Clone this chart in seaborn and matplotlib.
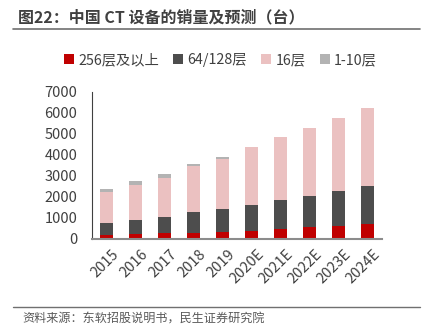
import numpy as np
import pandas as pd
import matplotlib
matplotlib.use("Agg")
import matplotlib.pyplot as plt
import matplotlib.transforms as mtransforms
from matplotlib.patches import Patch
from matplotlib.lines import Line2D
import seaborn as sns

years = ["2015", "2016", "2017", "2018", "2019", "2020E", "2021E", "2022E", "2023E", "2024E"]
slice_256 = [170, 220, 270, 300, 350, 400, 475, 555, 635, 715]
slice_64_128 = [575, 665, 760, 985, 1075, 1235, 1365, 1505, 1650, 1790]
slice_16 = [1475, 1695, 1870, 2185, 2395, 2740, 3010, 3235, 3470, 3710]
slice_1_10 = [170, 160, 175, 95, 65, 0, 0, 0, 0, 0]

series_names = ["256层及以上", "64/128层", "16层", "1-10层"]
colors = ["#C00000", "#4D4D4D", "#EBC1C1", "#B3B3B3"]

sns.set_theme(style="white")
plt.rcParams["font.family"] = ["Noto Sans CJK SC", "DejaVu Sans"]

df = pd.DataFrame({
    "year": years,
    "s256": slice_256,
    "s64": slice_64_128,
    "s16": slice_16,
    "s1": slice_1_10,
})
stack = df[["s256", "s64", "s16", "s1"]].cumsum(axis=1)

fig = plt.figure(figsize=(4.24, 3.34), dpi=100)
ax = fig.add_axes([92 / 424, 1 - 239 / 334, 290 / 424, (239 - 91.7) / 334])

# draw cumulative totals from the top layer down so each segment shows
for col, color in zip(["s1", "s16", "s64", "s256"], colors[::-1]):
    sns.barplot(x=df["year"], y=stack[col], color=color, width=0.45,
                saturation=1, ax=ax, linewidth=0)

ax.set_ylim(0, 7000)
ax.set_xlim(-0.5, 9.5)
ax.set_yticks(range(0, 7001, 1000))
ax.set_xlabel("")
ax.set_ylabel("")
ax.tick_params(axis="y", labelsize=10.5, labelcolor="#404040", length=0, pad=10.5)
ax.tick_params(axis="x", labelsize=10.5, labelcolor="#404040", length=0, pad=6)
shift = mtransforms.ScaledTranslation(5 / 100, 0, fig.dpi_scale_trans)
for lbl in ax.get_xticklabels():
    lbl.set_rotation(45)
    lbl.set_ha("right")
    lbl.set_rotation_mode("anchor")
    lbl.set_transform(lbl.get_transform() + shift)
for side in ["top", "right"]:
    ax.spines[side].set_visible(False)
ax.spines["left"].set_color("#404040")
ax.spines["left"].set_linewidth(0.8)
ax.spines["bottom"].set_color("#8C8C8C")
ax.spines["bottom"].set_linewidth(1.5)

handles = [Patch(facecolor=c, edgecolor="none") for c in colors]
fig.legend(handles, series_names, loc="center", bbox_to_anchor=(0.52, 1 - 60 / 334),
           ncol=4, frameon=False, fontsize=10.3, handlelength=0.7, handleheight=0.7,
           handletextpad=0.3, columnspacing=1.0, labelcolor="#404040")

fig.text(18 / 424, 1 - 17 / 334, "图22：中国 CT 设备的销量及预测（台）", fontsize=11.5,
         fontweight="bold", color="#404040", va="center", ha="left")
fig.add_artist(Line2D([13 / 424, 420 / 424], [1 - 29 / 334, 1 - 29 / 334],
                      color="#707070", linewidth=1.2))
fig.add_artist(Line2D([13 / 424, 420 / 424], [1 - 307 / 334, 1 - 307 / 334],
                      color="#707070", linewidth=1.0))
fig.text(22 / 424, 1 - 319 / 334, "资料来源：东软招股说明书，民生证券研究院", fontsize=8.7,
         color="#595959", va="center", ha="left")

fig.savefig("out.png", dpi=100)
